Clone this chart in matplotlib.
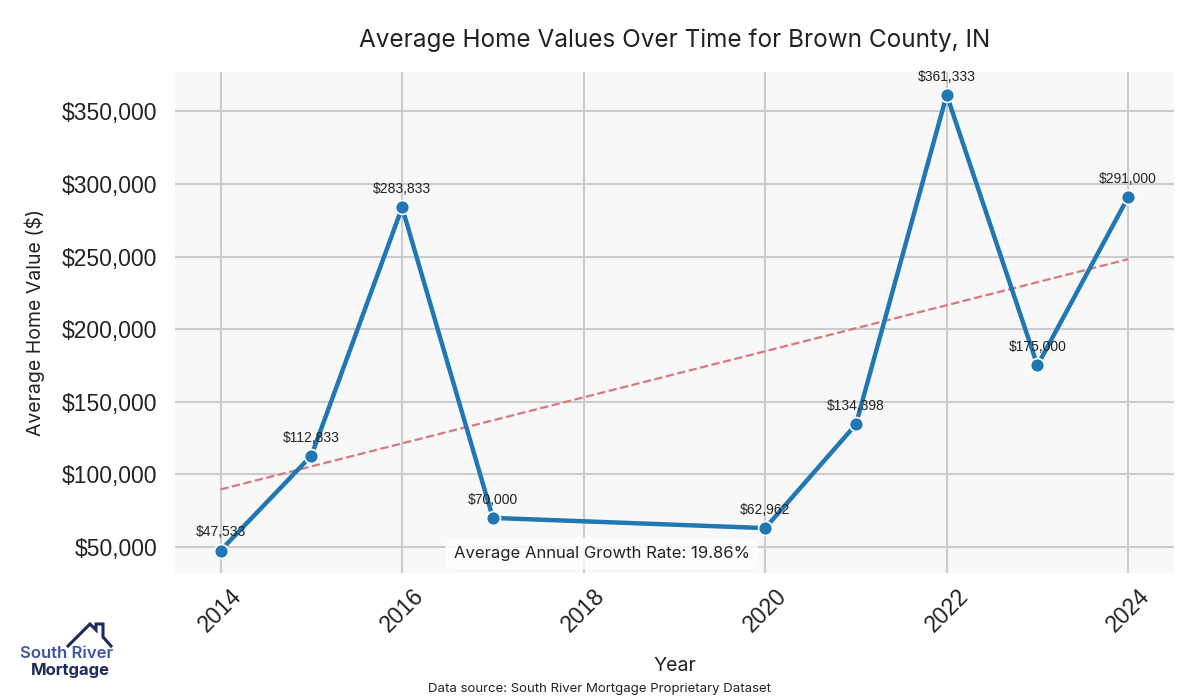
import matplotlib; matplotlib.use("Agg")
import matplotlib.pyplot as plt
from matplotlib.lines import Line2D
from matplotlib.ticker import FuncFormatter

years = [2014, 2015, 2016, 2017, 2020, 2021, 2022, 2023, 2024]
values = [47533, 112833, 283833, 70000, 62962, 134398, 361333, 175000, 291000]
trend_years = [2014, 2024]
trend_values = [89600, 248200]
growth_rate = 19.86

C_LINE = "#1f77b4"; C_TREND = "#d9777b"; C_BG = "#f8f8f8"; C_GRID = "#cccccc"
UI = ["Inter", "DejaVu Sans"]; NUM = ["Liberation Sans", "DejaVu Sans"]

fig = plt.figure(figsize=(12, 7), dpi=100)
ax = fig.add_axes([0.146, 0.181, 0.832, 0.716])
ax.set_facecolor(C_BG)
for s in ax.spines.values(): s.set_visible(False)
ax.grid(True, color=C_GRID, linewidth=1.5)
ax.set_axisbelow(True)

ax.plot(trend_years, trend_values, "--", color=C_TREND, linewidth=1.6, zorder=2)
ax.plot(years, values, "-o", color=C_LINE, linewidth=3.2, markersize=10,
        markeredgecolor="white", markeredgewidth=1.2, zorder=3)
for x, y in zip(years, values):
    ax.annotate(f"${y:,.0f}", (x, y), xytext=(0, 8), textcoords="offset points",
                ha="center", va="bottom", fontsize=10, family=NUM, color="#222222")

ax.yaxis.set_major_formatter(FuncFormatter(lambda v, p: f"${v:,.0f}"))
ax.tick_params(axis="y", length=0, labelsize=16.5, colors="#222222", pad=13)
ax.tick_params(axis="x", length=0, labelsize=16.5, colors="#222222", pad=8)
for lb in ax.get_yticklabels(): lb.set_family(NUM)
plt.setp(ax.get_xticklabels(), rotation=45, ha="center", family=NUM)

ax.set_title("Average Home Values Over Time for Brown County, IN", fontsize=17.5,
             family=UI, color="#222222", pad=18)
ax.set_xlabel("Year", fontsize=14, family=UI, color="#222222", labelpad=15)
ax.set_ylabel("Average Home Value ($)", fontsize=14, family=UI, color="#222222", labelpad=12)

ax.text(0.427, 0.04, f"Average Annual Growth Rate: {growth_rate:.2f}%", transform=ax.transAxes,
        ha="center", va="center", fontsize=12, family=UI, color="#222222", zorder=4,
        bbox=dict(boxstyle="round,pad=0.5,rounding_size=0.6", facecolor="white",
                  edgecolor="none", alpha=0.8))

fig.text(0.5, 0.016, "Data source: South River Mortgage Proprietary Dataset",
         ha="center", va="center", fontsize=9.5, family=UI, color="#222222")

# logo: roof outline + two-line name
W, H = 1200, 700
roof_x = [68, 90, 96, 96, 103, 103, 111]
roof_y = [646, 624, 630, 624, 624, 637, 646]
fig.add_artist(Line2D([x / W for x in roof_x], [1 - y / H for y in roof_y],
                      color="#1f2a5c", linewidth=2.2, solid_joinstyle="miter"))
fig.text(67 / W, 1 - 654 / H, "South River", ha="center", va="center", fontsize=12,
         family=UI, fontweight="semibold", color="#3f53a5")
fig.text(70 / W, 1 - 671 / H, "Mortgage", ha="center", va="center", fontsize=12,
         family=UI, fontweight="bold", color="#1f2a5c")

fig.savefig("out.png", dpi=100)
